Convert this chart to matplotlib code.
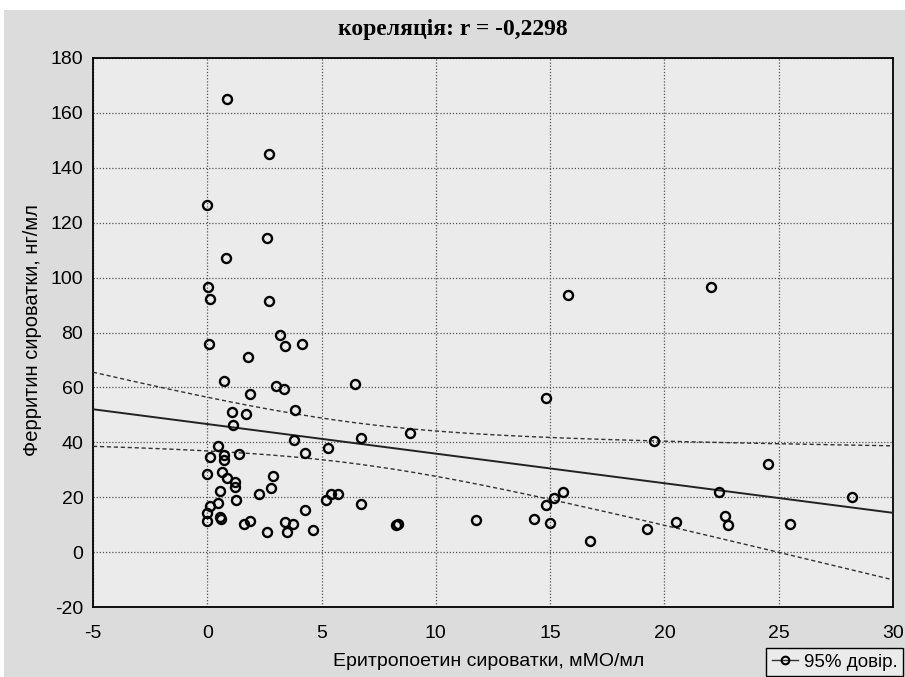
import numpy as np
import matplotlib.pyplot as plt
from matplotlib.patches import Rectangle
from matplotlib.lines import Line2D

# Еритропоетин сироватки (мМО/мл) vs Феритин сироватки (нг/мл)
epo = [0.85, 2.71, 0.0, 2.6, 0.80, 0.03, 0.12, 2.7,
       3.18, 3.40, 4.16, 0.09, 1.77, 0.72, 2.99, 3.37, 6.46, 1.85,
       3.84, 1.07, 1.68, 1.11, 3.79, 6.72, 5.28, 0.47, 0.13, 0.72,
       0.73, 1.37, 4.29, 0.0, 0.66, 0.85, 1.21, 1.21, 2.87, 2.80,
       0.57, 2.25, 1.24, 0.48, 0.13, 0.0, 0.0, 0.57, 0.60, 1.59,
       1.85, 2.6, 3.40, 3.50, 3.73, 4.28, 4.64, 5.18, 5.42, 5.73,
       6.72, 8.26, 8.36,
       15.77, 22.02, 14.81, 8.86, 19.56, 24.53, 15.55, 22.37, 28.19,
       15.15, 14.83, 14.29, 14.98, 11.77, 16.73, 19.24, 20.52, 22.65,
       22.77, 25.51]
ferritin = [164.9, 145.1, 126.6, 114.3, 107.0, 96.7, 92.3, 91.6,
            79.0, 75.1, 75.8, 75.8, 71.1, 62.4, 60.6, 59.4, 61.4, 57.6,
            51.8, 51.2, 50.3, 46.2, 40.9, 41.7, 38.1, 38.5, 34.8, 35.5,
            33.7, 35.6, 36.1, 28.6, 29.2, 27.1, 25.4, 23.7, 27.9, 23.5,
            22.3, 21.1, 19.0, 18.0, 16.7, 14.4, 11.5, 12.7, 12.2, 10.3,
            11.4, 7.5, 11.0, 7.2, 10.1, 15.5, 8.2, 18.8, 21.0, 21.0,
            17.4, 10.0, 10.3,
            93.8, 96.7, 56.1, 43.4, 40.5, 32.1, 22.0, 22.0, 20.2,
            19.6, 17.3, 12.1, 10.5, 11.6, 4.0, 8.3, 10.9, 13.0,
            9.8, 10.1]

x_ticks = [-5, 0, 5, 10, 15, 20, 25, 30]
y_ticks = [-20, 0, 20, 40, 60, 80, 100, 120, 140, 160, 180]
title = "кореляція: r = -0,2298"
t_crit = 1.99  # t(0.975, n-2)

plt.rcParams['axes.unicode_minus'] = False
sans = ['Liberation Sans', 'DejaVu Sans']

x = np.array(epo)
y = np.array(ferritin)
n = len(x)
slope, intercept = np.polyfit(x, y, 1)
xs = np.linspace(-5, 30, 200)
fit = intercept + slope * xs
resid = y - (intercept + slope * x)
s = np.sqrt(np.sum(resid ** 2) / (n - 2))
se = s * np.sqrt(1.0 / n + (xs - x.mean()) ** 2 / np.sum((x - x.mean()) ** 2))

fig = plt.figure(figsize=(9.05, 6.77), dpi=100, facecolor='white')
fig.patches.append(Rectangle((4 / 905, 0), 1, 1 - 10 / 677, transform=fig.transFigure,
                             facecolor='#dcdcdc', edgecolor='none', zorder=-10))
ax = fig.add_axes([93 / 905, 1 - 607 / 677, 800 / 905, 549 / 677])
ax.set_facecolor('#ebebeb')

ax.plot(xs, fit, color='#222222', lw=1.4, zorder=3)
ax.plot(xs, fit + t_crit * se, color='#333333', lw=1.0, ls=(0, (3, 2)), zorder=3)
ax.plot(xs, fit - t_crit * se, color='#333333', lw=1.0, ls=(0, (3, 2)), zorder=3)
ax.plot(x, y, ls='none', marker='o', ms=6.5, mfc='none', mec='black', mew=1.7, zorder=4)

ax.set_xlim(-5, 30)
ax.set_ylim(-20, 180)
ax.set_xticks(x_ticks)
ax.set_yticks(y_ticks)
ax.grid(True, color='#555555', ls=(0, (1, 1.5)), lw=0.9)
ax.tick_params(length=0)
ax.tick_params(axis='x', pad=13)
ax.tick_params(axis='y', pad=7)
for lab in ax.get_xticklabels() + ax.get_yticklabels():
    lab.set_family(sans)
    lab.set_fontsize(14)
for sp in ax.spines.values():
    sp.set_color('black')
    sp.set_linewidth(1.3)

ax.set_xlabel("Еритропоетин сироватки, мМО/мл", family=sans, fontsize=14)
ax.xaxis.set_label_coords(0.494, -0.083)
ax.set_ylabel("Ферритин сироватки, нг/мл", family=sans, fontsize=14.5)
ax.yaxis.set_label_coords(-0.064, 0.5045)

fig.text(0.5, 1 - 30 / 677, title, ha='center', va='center',
         family=['Liberation Serif', 'DejaVu Serif'], fontweight='bold', fontsize=17)

h = Line2D([0], [0], color='#333333', lw=1.0, marker='o', ms=5.5, mfc='none',
           mec='black', mew=1.5)
leg = fig.legend(handles=[h], labels=["95% довір."], loc='upper left',
                 bbox_to_anchor=(766 / 905, 1 - 648 / 677), borderaxespad=0,
                 frameon=True, fancybox=False, edgecolor='black', facecolor='#ebebeb',
                 framealpha=1, borderpad=0.3, handlelength=1.4, handletextpad=0.3,
                 prop={'family': sans, 'size': 13.5})
leg.get_frame().set_linewidth(1.0)

fig.savefig('out.png', dpi=100, facecolor=fig.get_facecolor())
